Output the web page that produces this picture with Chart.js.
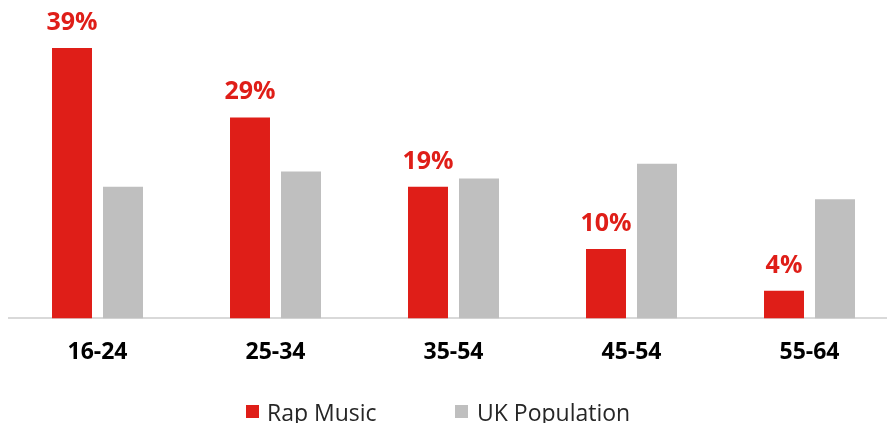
<!DOCTYPE html>
<html>
<head>
<meta charset="utf-8">
<script src="https://cdn.jsdelivr.net/npm/chart.js@4"></script>
<style>
  html, body { margin: 0; padding: 0; background: #fff; overflow: hidden; }
  #wrap { position: relative; width: 900px; height: 423px; }
  #legend { position: absolute; left: 0; top: 0; width: 900px; height: 423px; pointer-events: none;
            font-family: "Open Sans", sans-serif; font-size: 23px; color: #262626; }
  .sw { position: absolute; width: 13px; height: 13px; }
  .lt { position: absolute; line-height: 26px; white-space: nowrap; }
</style>
</head>
<body>
<div id="wrap">
  <canvas id="c"></canvas>
  <div id="legend"></div>
</div>
<script>
const categories = ["16-24", "25-34", "35-54", "45-54", "55-64"];
const rapMusic = [39, 29, 19, 10, 4];
const ukPopulation = [19, 21.2, 20.2, 22.3, 17.2];
const seriesNames = ["Rap Music", "UK Population"];
const seriesColors = ["#DF1E18", "#BFBFBF"];

// HTML legend (real text)
const legendEl = document.getElementById('legend');
const legendPos = [{sq: 246, tx: 267}, {sq: 455, tx: 477}];
seriesNames.forEach((name, i) => {
  const s = document.createElement('div');
  s.className = 'sw';
  s.style.left = legendPos[i].sq + 'px';
  s.style.top = '405px';
  s.style.background = seriesColors[i];
  legendEl.appendChild(s);
  const t = document.createElement('div');
  t.className = 'lt';
  t.style.left = legendPos[i].tx + 'px';
  t.style.top = '399px';
  t.textContent = name;
  legendEl.appendChild(t);
});

const valueLabels = {
  id: 'valueLabels',
  afterDatasetsDraw(chart) {
    const ctx = chart.ctx;
    const meta = chart.getDatasetMeta(0);
    ctx.save();
    ctx.font = 'bold 25px "Open Sans", sans-serif';
    ctx.fillStyle = seriesColors[0];
    ctx.textAlign = 'center';
    ctx.textBaseline = 'alphabetic';
    meta.data.forEach((bar, i) => {
      ctx.fillText(rapMusic[i] + '%', bar.x, bar.y - 18);
    });
    ctx.restore();
  }
};

new Chart(document.getElementById('c'), {
  type: 'bar',
  data: {
    labels: categories,
    datasets: [
      { label: seriesNames[0], data: rapMusic, backgroundColor: seriesColors[0] },
      { label: seriesNames[1], data: ukPopulation, backgroundColor: seriesColors[1] }
    ]
  },
  options: {
    responsive: true,
    maintainAspectRatio: false,
    animation: false,
    datasets: { bar: { categoryPercentage: 0.573, barPercentage: 0.784 } },
    layout: { padding: { left: 8.5, right: 1.5, top: 6.5, bottom: 37 } },
    plugins: { legend: { display: false }, tooltip: { enabled: false }, title: { display: false } },
    scales: {
      x: {
        grid: { display: false, drawTicks: false },
        border: { display: true, color: '#D9D9D9', width: 2 },
        ticks: { color: '#000', font: { family: '"Open Sans", sans-serif', size: 23, weight: 'bold' }, padding: 20 }
      },
      y: { display: false, min: 0, max: 45 }
    }
  },
  plugins: [valueLabels]
});
</script>
</body>
</html>
